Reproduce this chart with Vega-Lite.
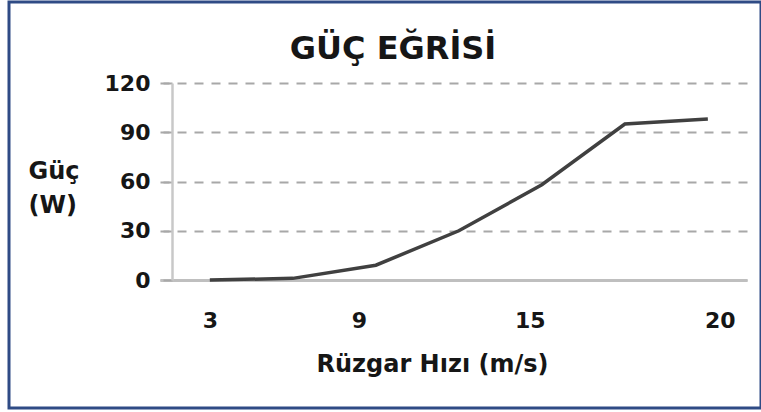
{
  "$schema": "https://vega.github.io/schema/vega-lite/v6.json",
  "width": 752,
  "height": 406,
  "autosize": {"type": "none"},
  "padding": {"left": 9, "top": 2, "right": 0, "bottom": 4},
  "background": "white",
  "title": {
    "text": "GÜÇ EĞRİSİ",
    "font": "DejaVu Sans",
    "fontSize": 32,
    "fontWeight": "bold",
    "color": "#161616",
    "anchor": "middle",
    "frame": "group",
    "baseline": "alphabetic",
    "offset": -56,
    "dx": 8,
    "dy": 33
  },
  "data": {
    "values": [
      {"hiz": "3", "guc": 0},
      {"hiz": "6", "guc": 1},
      {"hiz": "9", "guc": 9},
      {"hiz": "12", "guc": 30},
      {"hiz": "15", "guc": 58},
      {"hiz": "18", "guc": 95},
      {"hiz": "20", "guc": 98}
    ]
  },
  "mark": {"type": "line", "color": "#404040", "strokeWidth": 3.5, "strokeJoin": "miter"},
  "encoding": {
    "x": {
      "field": "hiz",
      "type": "ordinal",
      "sort": null,
      "scale": {"type": "point", "range": [151, 738], "padding": 0.536, "align": 0.56},
      "axis": {
        "title": "Rüzgar Hızı (m/s)",
        "titleFont": "DejaVu Sans",
        "titleFontSize": 24,
        "titleFontWeight": "bold",
        "titleColor": "#161616",
        "titleX": 423,
        "titleY": 91,
        "titleAlign": "center",
        "titleBaseline": "alphabetic",
        "labelExpr": "indexof(['3','9','15','20'], datum.value) >= 0 ? datum.value : ''",
        "labelOffset": {"expr": "datum.value == '9' ? -17 : datum.value == '15' ? -12 : datum.value == '20' ? 12 : 0"},
        "labelFont": "DejaVu Sans",
        "labelFontSize": 22,
        "labelFontWeight": "bold",
        "labelColor": "#161616",
        "labelAngle": 0,
        "labelPadding": 30,
        "labelBaseline": "top",
        "ticks": false,
        "tickSize": 0,
        "grid": false,
        "domainColor": "#bfbfbf",
        "domainWidth": 3,
        "offset": -128
      }
    },
    "y": {
      "field": "guc",
      "type": "quantitative",
      "scale": {"domain": [0, 120], "nice": false, "zero": true, "range": [278, 81]},
      "axis": {
        "title": ["Güç", "(W)"],
        "titleFont": "DejaVu Sans",
        "titleFontSize": 24,
        "titleFontWeight": "bold",
        "titleColor": "#161616",
        "titleAngle": 0,
        "titleAlign": "left",
        "titleBaseline": "alphabetic",
        "titleX": -144,
        "titleY": 176,
        "titleLineHeight": 34,
        "values": [0, 30, 60, 90, 120],
        "labelFont": "DejaVu Sans",
        "labelFontSize": 22,
        "labelFontWeight": "bold",
        "labelColor": "#161616",
        "labelPadding": 10,
        "ticks": true,
        "tickSize": 12,
        "tickColor": "#a8a8a8",
        "tickWidth": 2,
        "tickDash": [9, 8],
        "grid": true,
        "gridColor": "#a8a8a8",
        "gridDash": [9, 8],
        "gridWidth": 2,
        "domainColor": "#c8c8c8",
        "domainWidth": 2.5,
        "offset": -163
      }
    }
  },
  "config": {
    "view": {"stroke": "#2f4b85", "strokeWidth": 3, "fill": "white"}
  }
}
